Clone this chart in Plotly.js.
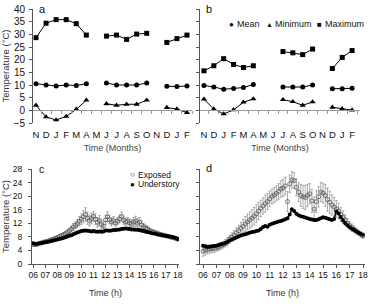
<!DOCTYPE html>
<html>
<head>
<meta charset="utf-8">
<script src="https://cdn.plot.ly/plotly-3.0.1.min.js"></script>
<style>html,body{margin:0;padding:0;background:#fff;}#chart{width:379px;height:304px;}</style>
</head>
<body>
<div id="chart"></div>
<script>
// ---------- Panels a & b: monthly temperatures ----------
const monthLabels = ["N","D","J","F","M","A","M","J","J","A","S","O","N","D","J","F"];
const aMax  = [28.7, 34.4, 35.8, 35.8, 34.2, 29.7, null, 29.3, 29.7, 28.0, 30.1, 30.4, null, 26.8, 28.3, 29.7];
const aMean = [10.5, 10.0, 9.6, 10.0, 9.8, 10.5, null, 10.8, 10.0, 10.0, 10.0, 10.8, null, 9.5, 9.4, 9.6];
const aMin  = [2.0, -2.6, -3.8, -2.4, 0.4, 4.0, null, 2.6, 2.0, 2.4, 2.4, 4.0, null, 1.1, 0.5, -0.9];
const bMax  = [15.6, 17.6, 20.4, 18.1, 16.9, 17.6, null, null, 23.2, 22.7, 22.0, 24.2, null, 16.5, 20.9, 23.6];
const bMean = [9.8, 9.2, 8.3, 8.6, 9.0, 10.2, null, null, 9.2, 9.2, 9.2, 10.0, null, 8.5, 8.5, 8.7];
const bMin  = [4.4, 0.5, -1.4, 0.2, 3.2, 4.5, null, null, 4.2, 3.4, 2.0, 3.3, null, 1.2, 0.6, 0.1];
const tempTicks = [-5, 0, 5, 10, 15, 20, 25, 30, 35, 40];

// ---------- Panels c & d: diurnal course (10-min readings) ----------
const timeLabels = [
 "06:00","06:10","06:20","06:30","06:40","06:50",
 "07:00","07:10","07:20","07:30","07:40","07:50",
 "08:00","08:10","08:20","08:30","08:40","08:50",
 "09:00","09:10","09:20","09:30","09:40","09:50",
 "10:00","10:10","10:20","10:30","10:40","10:50",
 "11:00","11:10","11:20","11:30","11:40","11:50",
 "12:00","12:10","12:20","12:30","12:40","12:50",
 "13:00","13:10","13:20","13:30","13:40","13:50",
 "14:00","14:10","14:20","14:30","14:40","14:50",
 "15:00","15:10","15:20","15:30","15:40","15:50",
 "16:00","16:10","16:20","16:30","16:40","16:50",
 "17:00","17:10","17:20","17:30","17:40","17:50",
 "18:00"];
const hourLabels = ["06","07","08","09","10","11","12","13","14","15","16","17","18"];
const dayTicks = [0, 4, 8, 12, 16, 20, 24, 28];

const cExposed = [
 5.8, 5.7, 5.8, 6.0, 6.2, 6.4,
 6.6, 6.7, 6.9, 7.1, 7.3, 7.6,
 7.8, 8.1, 8.3, 8.6, 8.9, 9.3,
 9.8, 10.3, 10.9, 11.4, 11.9, 12.6,
 13.2, 13.9, 14.6, 13.5, 12.8, 13.4,
 14.0, 13.2, 12.3, 12.8, 11.6, 11.2,
 13.0, 13.9, 13.1, 12.4, 12.8, 12.1,
 12.6, 13.3, 14.0, 12.9, 12.4, 12.6,
 12.1, 11.8, 12.3, 12.6, 12.0, 12.4,
 11.5, 11.0, 10.6, 10.3, 9.9, 9.6,
 9.4, 9.2, 9.0, 8.8, 8.6, 8.5,
 8.3, 8.2, 8.0, 7.8, 7.7, 7.5,
 7.3];
const cExposedErr = [
 0.5, 0.5, 0.4, 0.4, 0.4, 0.4,
 0.4, 0.4, 0.4, 0.5, 0.5, 0.5,
 0.5, 0.6, 0.6, 0.7, 0.7, 0.8,
 0.8, 0.9, 1.0, 1.0, 1.2, 1.4,
 1.6, 1.8, 2.0, 1.8, 1.6, 1.6,
 1.5, 1.6, 1.4, 1.5, 1.3, 1.2,
 1.4, 1.5, 1.3, 1.2, 1.2, 1.1,
 1.1, 1.2, 1.3, 1.2, 1.1, 1.1,
 1.2, 1.3, 1.4, 1.5, 1.4, 1.3,
 1.2, 1.0, 0.9, 0.8, 0.7, 0.6,
 0.6, 0.6, 0.5, 0.5, 0.5, 0.5,
 0.5, 0.4, 0.4, 0.4, 0.4, 0.4,
 0.4];
const cUnder = [
 6.1, 6.0, 6.0, 6.1, 6.2, 6.3,
 6.4, 6.5, 6.6, 6.8, 6.9, 7.1,
 7.2, 7.4, 7.5, 7.7, 7.9, 8.1,
 8.3, 8.5, 8.8, 9.1, 9.3, 9.5,
 9.7, 9.8, 9.9, 9.8, 9.7, 9.6,
 9.7, 9.6, 9.5, 9.6, 9.5, 9.6,
 9.9, 9.9, 9.8, 9.9, 10.0, 10.0,
 10.1, 10.2, 10.3, 10.4, 10.5, 10.4,
 10.3, 10.2, 10.2, 10.1, 10.1, 10.0,
 9.8, 9.7, 9.5, 9.4, 9.3, 9.1,
 9.0, 8.9, 8.7, 8.6, 8.5, 8.4,
 8.3, 8.2, 8.1, 8.0, 7.9, 7.7,
 7.4];
const dExposed = [
 3.8, 4.0, 4.3, 4.4, 4.5, 4.6,
 4.8, 5.0, 5.3, 5.7, 6.1, 6.6,
 7.3, 7.9, 8.5, 9.2, 9.8, 10.5,
 11.1, 11.8, 12.4, 13.0, 13.5, 14.1,
 14.8, 15.6, 16.4, 17.1, 17.8, 18.4,
 19.2, 19.9, 20.3, 20.8, 21.4, 22.1,
 22.4, 23.0, 18.4, 23.6, 24.8, 24.6,
 22.6, 21.2, 20.2, 19.8, 19.6, 20.2,
 20.7, 18.6, 16.2, 18.4, 19.8, 21.2,
 20.9, 20.2, 19.0, 18.2, 17.4, 16.8,
 16.2, 15.6, 14.6, 13.8, 13.0, 12.0,
 11.3, 10.7, 10.2, 9.7, 9.2, 8.7,
 8.3];
const dExposedErr = [
 1.5, 1.4, 1.3, 1.2, 1.2, 1.1,
 1.0, 1.0, 1.0, 1.0, 1.1, 1.2,
 1.2, 1.3, 1.4, 1.5, 1.6, 1.8,
 2.0, 2.2, 2.3, 2.4, 2.5, 2.6,
 2.6, 2.5, 2.4, 2.4, 2.5, 2.4,
 2.3, 2.2, 2.2, 2.2, 2.3, 2.4,
 2.5, 2.6, 3.0, 2.6, 2.4, 2.3,
 2.5, 2.8, 3.2, 3.4, 3.6, 3.3,
 3.0, 3.4, 3.6, 3.2, 3.0, 2.8,
 2.9, 3.2, 3.4, 3.3, 3.0, 2.8,
 2.5, 2.3, 2.0, 1.8, 1.5, 1.3,
 1.2, 1.1, 1.0, 0.9, 0.8, 0.8,
 0.7];
const dUnder = [
 5.4, 5.2, 5.0, 5.1, 5.2, 5.3,
 5.4, 5.6, 5.8, 6.0, 6.2, 6.5,
 6.9, 7.2, 7.5, 7.8, 8.1, 8.4,
 8.6, 8.8, 9.0, 9.2, 9.4, 9.5,
 9.7, 9.9, 10.3, 10.9, 11.2, 11.0,
 11.6, 11.9, 12.1, 12.3, 12.5, 12.7,
 12.9, 13.2, 13.5, 14.6, 16.1, 15.6,
 14.8, 14.4, 14.1, 13.9, 13.7, 13.5,
 13.3, 13.1, 13.0, 13.0, 13.2, 13.5,
 13.8, 13.6, 13.4, 13.2, 13.0, 13.3,
 15.5, 14.9, 13.8, 12.8, 12.0, 11.4,
 10.8, 10.4, 10.0, 9.6, 9.2, 8.9,
 8.6];

// ---------- helpers ----------
const monthIdx = monthLabels.map((_, i) => i);
const monthBounds = monthLabels.map((_, i) => i - 0.5).concat([monthLabels.length - 0.5]);
const hours = timeLabels.map(t => { const p = t.split(":"); return +p[0] + (+p[1]) / 60; });
const hourVals = hourLabels.map(h => +h);

const FONT = "Arial, 'Liberation Sans', sans-serif";
const W = 379, H = 304;
const px = v => v / W;           // x pixel -> paper
const py = v => (H - v) / H;     // y pixel -> paper

function monthTrace(y, sym, xa, ya, name) {
  return {x: monthIdx, y: y, xaxis: xa, yaxis: ya, name: name, mode: "lines+markers",
    connectgaps: false, showlegend: false, hoverinfo: "y",
    line: {color: "#000", width: 1},
    marker: {symbol: sym, size: sym === "triangle-up" ? 5.5 : 5, color: "#000"}};
}

const traces = [
  monthTrace(aMax, "square", "x", "y", "Maximum"),
  monthTrace(aMean, "circle", "x", "y", "Mean"),
  monthTrace(aMin, "triangle-up", "x", "y", "Minimum"),
  monthTrace(bMax, "square", "x2", "y2", "Maximum"),
  monthTrace(bMean, "circle", "x2", "y2", "Mean"),
  monthTrace(bMin, "triangle-up", "x2", "y2", "Minimum"),
  // carriers for the zero-line axes
  {x: [null], y: [null], xaxis: "x5", yaxis: "y", showlegend: false, hoverinfo: "skip"},
  {x: [null], y: [null], xaxis: "x6", yaxis: "y2", showlegend: false, hoverinfo: "skip"},
  // panel c
  {x: hours, y: cExposed, xaxis: "x3", yaxis: "y3", name: "Exposed", mode: "markers", showlegend: false,
   error_y: {type: "data", array: cExposedErr, visible: true, color: "#888", thickness: 0.7, width: 1.2},
   marker: {symbol: "circle-open", size: 4, color: "#555", line: {width: 0.8}}},
  {x: hours, y: cUnder, xaxis: "x3", yaxis: "y3", name: "Understory", mode: "lines+markers", showlegend: false,
   line: {color: "#000", width: 1.5}, marker: {symbol: "circle", size: 4, color: "#000"}},
  // panel d
  {x: hours, y: dExposed, xaxis: "x4", yaxis: "y4", name: "Exposed", mode: "markers", showlegend: false,
   error_y: {type: "data", array: dExposedErr, visible: true, color: "#888", thickness: 0.7, width: 1.2},
   marker: {symbol: "circle-open", size: 4, color: "#555", line: {width: 0.8}}},
  {x: hours, y: dUnder, xaxis: "x4", yaxis: "y4", name: "Understory", mode: "lines+markers", showlegend: false,
   line: {color: "#000", width: 1.5}, marker: {symbol: "circle", size: 4, color: "#000"}}
];

const topDom = [py(123), py(9)];
const botDom = [py(264), py(169)];
const zeroPos = topDom[0] + (0 - (-5)) / 45 * (topDom[1] - topDom[0]);

function monthAxis(dom, rng, title) {
  return {domain: dom, range: rng, tickmode: "array", tickvals: monthIdx, ticktext: monthLabels,
    showline: false, ticks: "", showgrid: false, zeroline: false, fixedrange: true,
    ticklabelstandoff: 4, tickfont: {size: 9.5, color: "#111"},
    title: {text: title, font: {size: 9, color: "#444"}, standoff: 6}};
}
function zeroAxis(over, dom, rng) {
  return {overlaying: over, anchor: "free", position: zeroPos, domain: dom, range: rng,
    tickmode: "array", tickvals: monthBounds, showticklabels: false, ticks: "outside", ticklen: 2.5,
    tickcolor: "#999", showline: true, linecolor: "#999", linewidth: 1, showgrid: false, zeroline: false};
}
function tempAxis(anchor, labels, title) {
  return {domain: topDom, range: [-5, 40], anchor: anchor, tickmode: "array", tickvals: tempTicks,
    showticklabels: labels, ticks: "outside", ticklen: 3, tickcolor: "#555", showline: true, linecolor: "#555",
    linewidth: 1, showgrid: false, zeroline: false, ticklabelstandoff: 2, tickfont: {size: 10, color: "#111"},
    title: {text: title, font: {size: 9.5, color: "#333"}, standoff: 2}};
}
function hourAxis(dom, rng) {
  return {domain: dom, range: rng, tickmode: "array", tickvals: hourVals, ticktext: hourLabels,
    ticks: "outside", ticklen: 3, tickcolor: "#555", showline: true, linecolor: "#555", linewidth: 1,
    showgrid: false, zeroline: false, tickfont: {size: 8.5, color: "#111"},
    title: {text: "Time (h)", font: {size: 9, color: "#333"}, standoff: 10}};
}
function dayAxis(anchor, labels, title) {
  return {domain: botDom, range: [0, 28], anchor: anchor, tickmode: "array", tickvals: dayTicks,
    showticklabels: labels, ticks: "outside", ticklen: 3, tickcolor: "#555", showline: true, linecolor: "#555",
    linewidth: 1, showgrid: false, zeroline: false, ticklabelstandoff: 4, tickfont: {size: 8.5, color: "#111"},
    title: {text: title, font: {size: 9.5, color: "#333"}, standoff: 3}};
}

function ann(text, x, y, size, xanchor) {
  return {text: text, xref: "paper", yref: "paper", x: px(x), y: py(y), xanchor: xanchor || "left",
    yanchor: "middle", showarrow: false, font: {size: size, color: "#111", family: FONT}};
}

const layout = {
  width: W, height: H, margin: {l: 0, r: 0, t: 0, b: 0},
  paper_bgcolor: "#fff", plot_bgcolor: "rgba(0,0,0,0)",
  font: {family: FONT, color: "#111"}, showlegend: false,
  xaxis: Object.assign(monthAxis([px(33), px(192)], [-0.3, 15.5], "Time (Months)"), {anchor: "y"}),
  yaxis: tempAxis("x", true, "Temperature (°C)"),
  xaxis2: Object.assign(monthAxis([px(200), px(360)], [-0.4, 15.8], "Time (Months)"), {anchor: "y2"}),
  yaxis2: tempAxis("x2", false, ""),
  xaxis5: zeroAxis("x", [px(33), px(192)], [-0.3, 15.5]),
  xaxis6: zeroAxis("x2", [px(200), px(360)], [-0.4, 15.8]),
  xaxis3: Object.assign(hourAxis([px(32), px(179)], [5.9, 18.1]), {anchor: "y3"}),
  yaxis3: dayAxis("x3", true, "Temperature (°C)"),
  xaxis4: Object.assign(hourAxis([px(200), px(365)], [5.77, 18.15]), {anchor: "y4"}),
  yaxis4: dayAxis("x4", false, ""),
  annotations: [
    ann("a", 37, 9, 11), ann("b", 204, 9, 11), ann("c", 37, 169, 10.5), ann("d", 204, 168, 11),
    ann("●", 231, 24, 8, "center"), ann("Mean", 235, 24, 9),
    ann("▲", 269, 24, 7, "center"), ann("Minimum", 273, 24, 9),
    ann("■", 319, 24, 8, "center"), ann("Maximum", 323, 24, 9),
    ann("○", 132, 175, 8, "center"), ann("Exposed", 136, 175, 8.5),
    ann("●", 132, 184, 8, "center"), ann("Understory", 136, 184, 8.5)
  ]
};

Plotly.newPlot("chart", traces, layout, {staticPlot: true, displayModeBar: false});
</script>
</body>
</html>
